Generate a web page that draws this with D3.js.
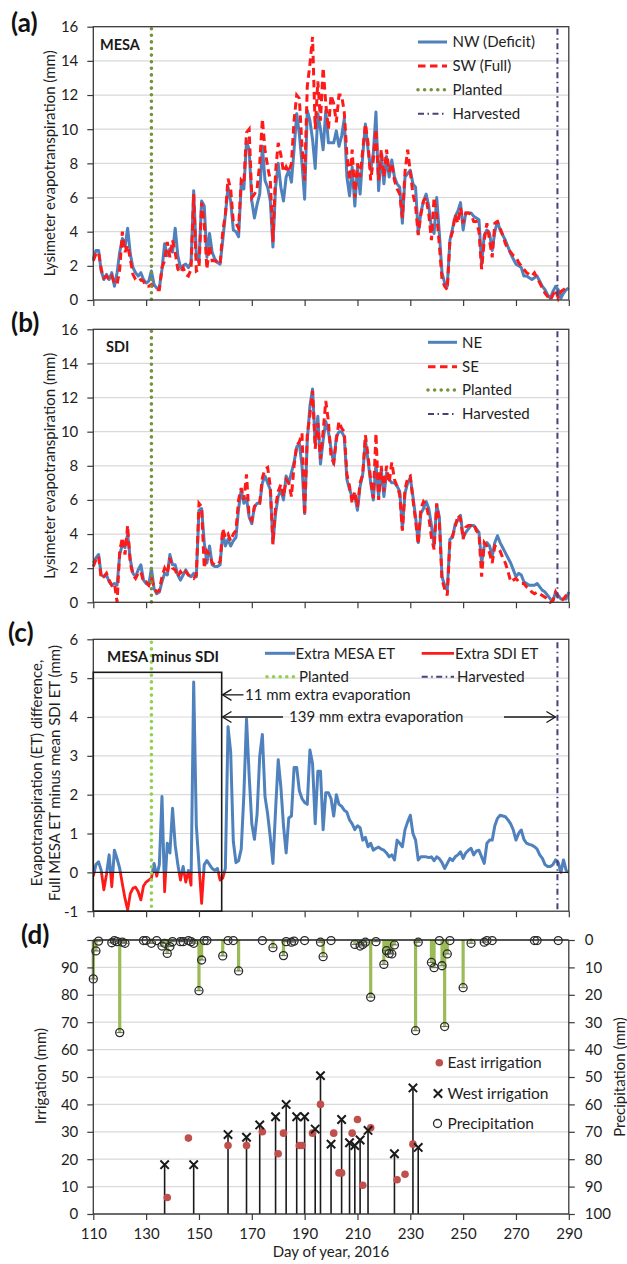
<!DOCTYPE html>
<html>
<head>
<meta charset="utf-8">
<script src="https://cdn.jsdelivr.net/npm/d3@7"></script>
<style>
  body { margin: 0; background: #fff; }
  svg { display: block; }
</style>
</head>
<body>
<svg id="chart" width="627" height="1264"></svg>
<script>
// ---------------- data ----------------
const days = d3.range(110, 291); // day of year 110 … 290

// (a) MESA lysimeters, daily ET (mm)
const nwDeficit = [
  2.4, 2.9, 2.9, 1.7, 1.2, 1.5, 1.2, 1.6, 0.8, 1.6,
  2.8, 3.6, 3.1, 4.2, 2.7, 1.9, 1.6, 1.4, 1.6, 1.2,
  1.0, 1.1, 1.7, 0.9, 0.7, 0.7, 1.8, 3.3, 2.6, 3.0,
  2.8, 4.2, 2.6, 1.9, 2.0, 2.1, 1.9, 2.2, 6.4, 2.6,
  2.2, 5.8, 5.5, 2.5, 3.9, 2.8, 2.4, 2.2, 2.1, 3.5,
  5.0, 6.6, 5.8, 4.1, 4.0, 3.7, 6.8, 6.5, 9.3, 8.8,
  5.8, 4.8, 5.6, 6.2, 9.0, 7.0, 6.6, 5.8, 3.1, 6.6,
  8.0, 6.6, 5.8, 7.2, 7.6, 6.9, 8.8, 10.9, 9.7, 8.0,
  5.9, 11.1, 10.5, 9.4, 7.7, 10.9, 10.0, 8.8, 11.1, 9.2,
  9.2, 9.2, 9.9, 9.0, 9.6, 10.6, 7.2, 6.1, 7.8, 5.5,
  7.8, 6.2, 8.5, 10.3, 8.8, 7.6, 8.6, 11.0, 6.4, 8.6,
  6.8, 8.4, 7.2, 8.2, 7.2, 6.8, 6.6, 4.5, 7.2, 7.4,
  7.6, 6.8, 6.6, 3.9, 5.1, 5.8, 6.2, 5.5, 4.2, 3.9,
  6.0, 3.9, 1.6, 1.0, 0.8, 3.5, 4.2, 4.9, 5.2, 5.7,
  4.1, 5.1, 5.1, 5.1, 4.9, 4.8, 4.7, 2.1, 3.8, 4.1,
  3.9, 2.9, 4.0, 4.6, 4.1, 3.8, 3.5, 3.1, 2.7, 2.4,
  2.1, 2.0, 1.9, 1.4, 1.4, 1.3, 1.2, 1.3, 1.4, 1.1,
  0.8, 0.6, 0.3, 0.1, 0.5, 0.8, 0.6, 0.1, 0.4, 0.6,
  0.7
];
const swFull = [
  2.3, 2.7, 2.8, 1.8, 1.3, 1.4, 1.2, 1.4, 1.0, 0.9,
  1.8, 4.0, 2.8, 3.2, 2.4, 1.5, 1.2, 1.1, 1.2, 1.1,
  0.8, 0.8, 0.9, 0.7, 0.6, 0.6, 1.9, 2.3, 3.4, 2.5,
  3.5, 2.8, 1.8, 1.6, 1.9, 1.5, 1.4, 1.8, 6.2, 1.7,
  1.8, 5.7, 4.5, 1.8, 3.2, 2.3, 2.3, 2.2, 2.1, 4.0,
  5.0, 7.1, 6.5, 4.6, 4.5, 4.2, 7.0, 6.8, 9.8, 10.0,
  6.0, 6.2, 6.5, 8.0, 10.6, 8.8, 7.8, 7.0, 3.4, 7.5,
  9.2, 8.5, 7.5, 7.8, 7.5, 8.0, 10.5, 12.0, 11.8, 9.0,
  7.0, 12.5, 13.8, 15.4, 10.0, 12.8, 10.5, 13.6, 11.5, 10.0,
  12.0, 11.5, 10.4, 12.0, 12.0, 11.0, 8.5, 7.0, 8.8, 6.0,
  8.0, 7.2, 8.8, 10.3, 9.2, 7.0, 8.2, 10.0, 7.0, 8.8,
  7.2, 8.8, 7.5, 8.0, 7.0, 6.5, 6.2, 4.8, 7.5, 8.8,
  7.5, 6.2, 5.5, 3.8, 5.0, 5.8, 6.0, 5.0, 3.5, 6.0,
  5.0, 3.2, 1.2, 0.8, 0.6, 3.5, 4.0, 5.0, 4.5, 5.4,
  4.5, 5.1, 5.1, 5.0, 4.6, 4.6, 4.0, 1.8, 3.5, 4.5,
  3.5, 2.5, 4.5, 4.6, 4.2, 3.8, 3.3, 3.0, 2.8, 2.6,
  2.5, 2.2, 2.0, 1.8, 1.6, 1.5, 1.4, 1.6, 1.3, 1.0,
  0.7, 0.4, 0.2, 0.0, 0.3, 0.6, 0.1, 0.5, 0.6, 0.7,
  0.7
];

// (b) SDI lysimeters, daily ET (mm)
const neSdi = [
  2.3, 2.6, 2.8, 1.6, 1.5, 1.6, 1.2, 1.0, 1.1, 1.0,
  2.8, 3.4, 3.2, 4.0, 2.5, 1.7, 1.5, 1.9, 2.2, 1.3,
  1.1, 1.0, 2.0, 0.8, 0.5, 0.6, 1.2, 1.7, 1.6, 2.8,
  2.2, 2.2, 1.6, 1.3, 1.6, 1.9, 1.6, 1.5, 1.7, 1.5,
  5.4, 5.5, 3.5, 2.3, 3.3, 2.2, 2.1, 2.1, 2.2, 4.1,
  3.3, 3.7, 3.3, 3.6, 3.8, 5.5, 6.6, 5.8, 6.1, 5.0,
  4.6, 5.6, 5.8, 5.8, 7.0, 7.4, 7.0, 6.6, 3.5, 5.2,
  6.2, 6.6, 6.0, 7.4, 7.0, 7.6, 8.2, 9.1, 9.3, 8.0,
  5.2, 9.5, 11.5, 12.5, 9.3, 10.9, 8.1, 9.5, 10.6, 10.0,
  9.0, 8.1, 9.7, 10.0, 10.0, 9.7, 7.2, 6.6, 6.2, 6.2,
  5.4, 6.8, 7.5, 9.5, 8.3, 7.0, 6.0, 8.1, 6.2, 7.8,
  6.2, 7.6, 7.2, 7.0, 7.0, 6.8, 6.5, 4.3, 6.4, 7.0,
  7.3, 6.2, 5.0, 3.5, 5.2, 5.5, 5.9, 5.5, 4.5, 3.3,
  5.7, 5.0, 1.5, 1.0, 0.7, 3.7, 3.8, 4.6, 4.8, 5.1,
  3.8, 4.1, 4.3, 4.5, 4.5, 4.3, 4.1, 2.3, 3.3, 3.5,
  3.3, 2.7, 3.5, 3.9, 3.5, 3.2, 2.9, 2.6, 2.3, 1.9,
  1.5, 1.7, 1.6, 1.2, 1.1, 1.0, 1.0, 1.0, 1.1, 0.9,
  0.7, 0.6, 0.4, 0.2, 0.1, 0.6, 0.4, 0.2, 0.2, 0.2,
  0.6
];
const seSdi = [
  2.1, 2.5, 2.7, 1.4, 1.5, 1.7, 1.3, 1.0, 1.1, 0.0,
  3.0, 3.8, 2.8, 4.5, 2.3, 1.6, 1.4, 1.7, 1.8, 1.2,
  1.2, 1.0, 1.4, 0.9, 0.6, 0.7, 1.5, 2.0, 1.7, 2.6,
  2.0, 1.9, 1.5, 1.8, 1.6, 1.8, 1.6, 1.5, 1.4, 1.6,
  5.8, 5.6, 2.0, 3.0, 2.8, 2.3, 2.2, 2.2, 2.4, 4.3,
  3.8, 4.0, 3.6, 4.0, 4.2, 6.0, 6.7, 6.0, 7.5, 5.0,
  4.8, 5.6, 5.8, 5.8, 7.3, 7.8, 7.9, 6.8, 3.4, 5.6,
  6.5, 6.9, 6.2, 7.2, 7.0, 6.2, 8.0, 9.2, 9.4, 9.9,
  5.1, 9.8, 11.0, 12.4, 9.0, 10.5, 8.4, 10.0, 11.8, 10.6,
  8.5, 8.2, 9.5, 10.6, 10.2, 10.0, 7.5, 6.8, 5.8, 6.5,
  5.6, 7.0, 7.5, 9.8, 8.6, 7.2, 6.1, 9.9, 6.0, 8.0,
  6.5, 8.0, 7.0, 8.2, 7.2, 6.8, 6.3, 4.2, 6.6, 7.3,
  7.4, 6.0, 4.8, 3.4, 5.5, 5.9, 5.7, 5.0, 3.8, 3.1,
  5.8, 4.7, 1.3, 0.8, 0.4, 3.6, 3.9, 4.4, 5.1, 4.9,
  3.7, 4.4, 4.5, 4.5, 4.6, 4.2, 4.0, 1.5, 3.5, 3.3,
  2.9, 2.3, 3.3, 3.2, 3.0, 2.6, 2.3, 1.8, 1.2, 1.3,
  1.4, 1.2, 1.1, 1.1, 0.9, 0.8, 0.6, 0.5, 0.6, 0.5,
  0.4, 0.3, 0.2, 0.0, 0.1, 0.6, 0.3, 0.1, 0.2, 0.4,
  0.6
];

// (c) full MESA ET minus mean SDI ET (mm)
const etDifference = [
  -0.1, 0.2, 0.27, 0.05, -0.45, -0.05, 0.45, -0.37, 0.57, 0.35,
  0.1, -0.3, -0.67, -0.97, -0.55, -0.41, -0.38, -0.5, -0.71, -0.35,
  -0.25, -0.2, -0.15, 0.23, -0.1, 0.2, 1.95, -0.5, 0.75, 0.5,
  1.65, 0.7, 0.2, -0.2, 0.15, -0.25, 0.05, -0.33, 4.9, 1.2,
  0.2, -0.8, 0.2, 0.3, 0.2, 0.1, 0.05, 0.1, -0.2, -0.15,
  0.1, 3.75, 3.1, 0.8, 0.25, 0.3, 0.6, 2.0, 3.95, 2.5,
  1.25, 0.85, 1.5, 3.0, 3.55, 1.95, 1.5, 0.9, 0.23, 1.6,
  2.9, 2.2, 1.2, 0.5, 1.4, 1.45, 2.7, 2.7, 2.1, 1.9,
  1.8, 1.75, 3.15, 2.8, 1.25, 2.6, 2.6, 1.1, 2.05, 2.05,
  1.9, 1.45, 2.0, 1.75, 1.7, 1.6, 1.55, 1.35, 1.25, 1.1,
  1.2, 1.15, 0.83, 0.9, 0.66, 0.75, 0.57, 0.62, 0.65, 0.6,
  0.57, 0.5, 0.4, 0.45, 0.32, 0.83, 0.75, 0.66, 1.1, 1.3,
  1.47, 1.0, 0.83, 0.32, 0.4, 0.4, 0.4, 0.38, 0.4, 0.3,
  0.4, 0.35, 0.25, 0.1, 0.23, 0.36, 0.3, 0.4, 0.45, 0.53,
  0.36, 0.5, 0.57, 0.62, 0.45, 0.55, 0.57, 0.4, 0.23, 0.75,
  0.83, 0.83, 1.2, 1.39, 1.47, 1.45, 1.43, 1.35, 1.25, 1.09,
  0.83, 1.0, 1.09, 0.85, 0.75, 0.72, 0.7, 0.66, 0.6, 0.45,
  0.36, 0.2, 0.15, 0.15, 0.2, 0.32, 0.25, 0.0, 0.32, 0.05,
  0.0
];

// (d) irrigation events and rainfall
const westIrrDays = [137, 148, 161, 168, 173, 179, 183, 187, 190, 194, 196, 200, 204, 207, 209, 211, 214, 224, 231, 233];
const westIrrMm   = [18, 18, 29, 28, 32.5, 35.5, 40, 35.5, 35.5, 31, 50.5, 25.5, 34.5, 26, 25, 27, 30.5, 22, 46, 24.3];
const eastIrrDays = [138, 146, 161, 168, 174, 180, 182, 188, 189, 193, 196, 201, 203, 204, 208, 210, 212, 215, 225, 228, 231];
const eastIrrMm   = [6, 27.7, 25, 25, 30, 22, 29.5, 25, 25, 29.5, 40, 29.5, 15, 15, 29.5, 34.5, 10.5, 31.5, 12.5, 14.5, 25.5];
const rainDays = [110, 111, 112, 117, 118, 119, 120, 121, 122, 129, 130, 132, 134, 136, 137, 138, 139, 140, 143, 144,
                  146, 147, 148, 150, 151, 152, 153, 159, 161, 163, 165, 174, 178, 182, 183, 185, 186, 190, 196, 197,
                  200, 209, 211, 212, 213, 215, 217, 220, 221, 222, 223, 224, 232, 233, 238, 239, 241, 242, 243, 244,
                  245, 250, 253, 258, 259, 261, 277, 278, 286];
const rainMm   = [14.2, 4.0, 0.4, 1.0, 0.2, 0.6, 33.8, 0.8, 1.2, 0.2, 0.2, 1.2, 0.2, 2.2, 1.2, 4.9, 2.4, 0.6, 0.6, 0.6,
                  0.2, 0.6, 1.2, 18.5, 7.3, 0.2, 0.2, 5.8, 0.2, 0.2, 11.3, 0.2, 2.8, 5.7, 0.6, 0.8, 0.4, 0.2, 0.8, 6.1,
                  0.2, 1.6, 2.2, 1.6, 0.8, 20.9, 0.6, 8.9, 3.9, 4.9, 5.1, 1.8, 33.1, 0.8, 8.2, 10.1, 0.2, 9.4, 31.6, 5.1,
                  0.2, 17.4, 1.2, 0.8, 0.2, 0.2, 0.2, 0.2, 0.2];

// crop dates
const plantedDay = 132;
const harvestedDay = 285.7;

// tick labels
const etTicks = d3.range(0, 17, 2);
const diffTicks = d3.range(-1, 7, 1);
const dayTicks = d3.range(110, 291, 20);
const irrTicks = d3.range(0, 101, 10);
const rainTicks = d3.range(0, 101, 10);

// ---------------- drawing ----------------
const FONT = 'Lato, "Open Sans", "Liberation Sans", sans-serif';
const BLUE = '#4f81bd', RED = '#ff1a1a', OLIVE = '#76923c', LIME = '#92d050',
      PURPLE = '#4b3f78', GRID = '#d9d9d9', AXIS = '#3a3a3a', TXT = '#1e1e1e',
      GREENBAR = '#9bbb59', EAST = '#c0504d';
const FS = 15;
const svg = d3.select('#chart').attr('font-family', FONT);

const x = d3.scaleLinear().domain([110, 290]).range([93.3, 568.8]);
const [X0, X1] = x.range();

function series(values) { return days.map((d, i) => ({ day: d, v: values[i] })); }

function grid(g, y, vals) {
  g.append('g').selectAll('line').data(vals).join('line')
    .attr('x1', X0).attr('x2', X1).attr('y1', y).attr('y2', y)
    .attr('stroke', GRID).attr('stroke-width', 1.2);
}

function styleAxis(ax) {
  ax.select('.domain').remove();
  ax.selectAll('line').attr('stroke', AXIS).attr('stroke-width', 1.2);
  ax.selectAll('text').attr('font-size', FS).attr('fill', TXT).attr('font-family', FONT);
}

function leftAxis(g, y, ticks) {
  const ax = g.append('g').attr('transform', `translate(${X0},0)`)
    .call(d3.axisLeft(y).tickValues(ticks).tickSize(6).tickPadding(9).tickFormat(d => String(d)));
  styleAxis(ax);
}

function bottomTicks(g, yPos, labels) {
  const ax = g.append('g').attr('transform', `translate(0,${yPos})`)
    .call(d3.axisBottom(x).tickValues(dayTicks).tickSize(6).tickPadding(8)
      .tickFormat(labels ? d => String(d) : () => ''));
  styleAxis(ax);
}

function box(g, y0, y1) {
  g.append('rect').attr('x', X0).attr('y', y0).attr('width', X1 - X0).attr('height', y1 - y0)
    .attr('fill', 'none').attr('stroke', AXIS).attr('stroke-width', 1.3);
}

function vline(g, day, y0, y1, kind) {
  const l = g.append('line').attr('x1', x(day)).attr('x2', x(day)).attr('y1', y0).attr('y2', y1);
  styleLine(l, kind);
}

function styleLine(sel, kind) {
  if (kind === 'planted') {
    sel.attr('stroke', OLIVE).attr('stroke-width', 3.6).attr('stroke-dasharray', '0 6.6').attr('stroke-linecap', 'round');
  } else if (kind === 'plantedLime') {
    sel.attr('stroke', LIME).attr('stroke-width', 3.6).attr('stroke-dasharray', '0 6.6').attr('stroke-linecap', 'round');
  } else if (kind === 'harvest') {
    sel.attr('stroke', PURPLE).attr('stroke-width', 2).attr('stroke-dasharray', '6 3.5 1.5 3.5');
  } else if (kind === 'blue') {
    sel.attr('stroke', BLUE).attr('stroke-width', 3);
  } else if (kind === 'redDash') {
    sel.attr('stroke', RED).attr('stroke-width', 3).attr('stroke-dasharray', '7.5 4.5');
  } else if (kind === 'red') {
    sel.attr('stroke', RED).attr('stroke-width', 2.8);
  }
  return sel.attr('fill', 'none');
}

function legendRow(g, x0, x1, y, kind, label, tx) {
  styleLine(g.append('line').attr('x1', x0).attr('x2', x1).attr('y1', y).attr('y2', y), kind);
  g.append('text').attr('x', tx).attr('y', y).attr('dy', '0.35em')
    .attr('font-size', FS).attr('fill', TXT).text(label);
}

function panelTag(g, tx, ty, tag) {
  g.append('text').attr('x', tx).attr('y', ty).attr('font-size', 26).attr('font-weight', 700)
    .attr('fill', '#111').text(tag);
}

function yTitle(g, cx, cy, lines) {
  const t = g.append('text').attr('transform', `translate(${cx},${cy}) rotate(-90)`)
    .attr('text-anchor', 'middle').attr('font-size', FS).attr('fill', TXT);
  lines.forEach((s, i) => t.append('tspan').attr('x', 0).attr('dy', i === 0 ? '0.35em' : '1.15em').text(s));
}

// ---- panels (a) and (b): lysimeter ET ----
function etPanel(top, bottom, blueVals, redVals, names, tag, site, legX, legRows) {
  const g = svg.append('g');
  const y = d3.scaleLinear().domain([0, 16]).range([bottom, top]);
  grid(g, y, d3.range(2, 16, 2));
  const line = d3.line().x(d => x(d.day)).y(d => y(d.v));
  styleLine(g.append('path').attr('d', line(series(blueVals))), 'blue').attr('stroke-linejoin', 'round');
  styleLine(g.append('path').attr('d', line(series(redVals))), 'redDash');
  vline(g, plantedDay, top + 2, bottom, 'planted');
  vline(g, harvestedDay, top + 2, bottom, 'harvest');
  box(g, top, bottom);
  leftAxis(g, y, etTicks);
  bottomTicks(g, bottom, false);
  yTitle(g, 50, (top + bottom) / 2, ['Lysimeter evapotranspiration (mm)']);
  panelTag(g, tag.x, tag.y, tag.text);
  g.append('text').attr('x', site.x).attr('y', site.y).attr('font-size', 14.5).attr('font-weight', 700)
    .attr('fill', '#1a1a1a').text(site.text);
  const kinds = ['blue', 'redDash', 'planted', 'harvest'];
  [names[0], names[1], 'Planted', 'Harvested'].forEach((s, i) =>
    legendRow(g, legX[0], legX[1], legRows[i], kinds[i], s, legX[2]));
}

etPanel(26.7, 300, nwDeficit, swFull, ['NW (Deficit)', 'SW (Full)'],
  { x: 11, y: 32, text: '(a)' }, { x: 100, y: 50, text: 'MESA' },
  [418, 447, 452.5], [42, 66, 89.7, 113.7]);
etPanel(329.3, 602.3, neSdi, seSdi, ['NE', 'SE'],
  { x: 11, y: 332, text: '(b)' }, { x: 106, y: 352, text: 'SDI' },
  [428, 457, 462], [342.3, 366.7, 390, 414]);

// ---- panel (c): ET difference ----
(function () {
  const top = 639.3, bottom = 911.2;
  const g = svg.append('g');
  const y = d3.scaleLinear().domain([-1, 6]).range([bottom, top]);
  grid(g, y, d3.range(1, 6, 1));
  const defs = svg.append('defs');
  defs.append('clipPath').attr('id', 'abovezero').append('rect')
    .attr('x', X0).attr('y', top).attr('width', X1 - X0).attr('height', y(0) - top);
  defs.append('clipPath').attr('id', 'belowzero').append('rect')
    .attr('x', X0).attr('y', y(0)).attr('width', X1 - X0).attr('height', bottom - y(0));
  const line = d3.line().x(d => x(d.day)).y(d => y(d.v));
  const path = line(series(etDifference));
  styleLine(g.append('path').attr('d', path).attr('clip-path', 'url(#abovezero)'), 'blue').attr('stroke-linejoin', 'round');
  styleLine(g.append('path').attr('d', path).attr('clip-path', 'url(#belowzero)'), 'red').attr('stroke-linejoin', 'round');
  g.append('line').attr('x1', X0).attr('x2', X1).attr('y1', y(0)).attr('y2', y(0))
    .attr('stroke', '#1a1a1a').attr('stroke-width', 1.4);
  vline(g, plantedDay, top + 3, bottom, 'plantedLime');
  vline(g, harvestedDay, top + 3, bottom, 'harvest');
  box(g, top, bottom);
  // early-season window
  g.append('rect').attr('x', x(110)).attr('y', y(5.15)).attr('width', x(158.6) - x(110))
    .attr('height', y(-1) - y(5.15)).attr('fill', 'none').attr('stroke', '#1a1a1a').attr('stroke-width', 1.6);
  g.append('text').attr('x', 107).attr('y', 662).attr('font-size', 15).attr('font-weight', 700)
    .attr('fill', '#1a1a1a').text('MESA minus SDI');

  // annotation arrows
  const ann = g.append('g').attr('stroke', '#1a1a1a').attr('stroke-width', 1.3).attr('fill', 'none');
  function head(px, py, dir) {
    ann.append('path').attr('d', `M${px - dir * 9},${py - 5.5}L${px},${py}L${px - dir * 9},${py + 5.5}`);
  }
  const a1y = y(4.57), a2y = y(4.0);
  const left = x(158.9);
  head(left, a1y, -1);
  ann.append('line').attr('x1', left).attr('x2', left + 21).attr('y1', a1y).attr('y2', a1y);
  g.append('text').attr('x', left + 22.5).attr('y', a1y).attr('dy', '0.35em').attr('font-size', FS)
    .attr('fill', TXT).text('11 mm extra evaporation');
  head(left, a2y, -1);
  ann.append('line').attr('x1', left).attr('x2', 283).attr('y1', a2y).attr('y2', a2y);
  g.append('text').attr('x', 289).attr('y', a2y).attr('dy', '0.35em').attr('font-size', FS)
    .attr('fill', TXT).text('139 mm extra evaporation');
  const right = x(harvestedDay) - 2;
  ann.append('line').attr('x1', 504).attr('x2', right).attr('y1', a2y).attr('y2', a2y);
  head(right, a2y, 1);

  leftAxis(g, y, diffTicks);
  bottomTicks(g, bottom, false);
  yTitle(g, 37, 773, ['Evapotranspiration (ET) difference,', 'Full MESA ET minus mean SDI ET (mm)']);
  panelTag(g, 8, 642, '(c)');
  legendRow(g, 265, 295, 653.3, 'blue', 'Extra MESA ET', 295.5);
  legendRow(g, 421.7, 454, 653.3, 'red', 'Extra SDI ET', 455);
  legendRow(g, 267, 295, 676.7, 'plantedLime', 'Planted', 299);
  legendRow(g, 421.7, 454, 676.7, 'harvest', 'Harvested', 457);
})();

// ---- panel (d): irrigation and precipitation ----
(function () {
  const top = 940, bottom = 1214;
  const g = svg.append('g');
  const yIrr = d3.scaleLinear().domain([0, 100]).range([bottom, top]);
  const yRain = d3.scaleLinear().domain([0, 100]).range([top, bottom]);
  grid(g, yIrr, d3.range(10, 100, 10));

  // rainfall bars hang from the top axis
  const rain = rainDays.map((d, i) => ({ day: d, mm: rainMm[i] }));
  g.append('g').selectAll('rect').data(rain).join('rect')
    .attr('x', d => x(d.day) - 1.6).attr('width', 3.2)
    .attr('y', top).attr('height', d => yRain(d.mm) - top)
    .attr('fill', GREENBAR);

  // west irrigation stems
  const west = westIrrDays.map((d, i) => ({ day: d, mm: westIrrMm[i] }));
  g.append('g').selectAll('line').data(west).join('line')
    .attr('x1', d => x(d.day)).attr('x2', d => x(d.day))
    .attr('y1', bottom).attr('y2', d => yIrr(d.mm))
    .attr('stroke', '#1a1a1a').attr('stroke-width', 1.6);

  // axes frame
  g.append('line').attr('x1', X0).attr('x2', X1).attr('y1', top).attr('y2', top).attr('stroke', '#1a1a1a').attr('stroke-width', 1.4);
  g.append('line').attr('x1', X0).attr('x2', X1).attr('y1', bottom).attr('y2', bottom).attr('stroke', AXIS).attr('stroke-width', 1.3);
  g.append('line').attr('x1', X0).attr('x2', X0).attr('y1', top).attr('y2', bottom).attr('stroke', AXIS).attr('stroke-width', 1.3);
  g.append('line').attr('x1', X1).attr('x2', X1).attr('y1', top).attr('y2', bottom).attr('stroke', AXIS).attr('stroke-width', 1.3);

  // east irrigation dots
  const east = eastIrrDays.map((d, i) => ({ day: d, mm: eastIrrMm[i] }));
  g.append('g').selectAll('circle').data(east).join('circle')
    .attr('cx', d => x(d.day)).attr('cy', d => yIrr(d.mm)).attr('r', 3.8).attr('fill', EAST);

  // west irrigation crosses
  const cross = (cx, cy, s) => `M${cx - s},${cy - s}L${cx + s},${cy + s}M${cx - s},${cy + s}L${cx + s},${cy - s}`;
  g.append('g').selectAll('path').data(west).join('path')
    .attr('d', d => cross(x(d.day), yIrr(d.mm), 4.2))
    .attr('stroke', '#1a1a1a').attr('stroke-width', 2).attr('fill', 'none');

  // rainfall markers
  const rg = g.append('g').selectAll('g').data(rain).join('g')
    .attr('transform', d => `translate(${x(d.day)},${yRain(d.mm)})`);
  rg.append('circle').attr('r', 4).attr('fill', 'none').attr('stroke', '#2a2a2a').attr('stroke-width', 1.3);
  rg.append('line').attr('x1', -3.2).attr('x2', 3.2).attr('stroke', '#555').attr('stroke-width', 0.9);

  // axes
  const la = g.append('g').attr('transform', `translate(${X0},0)`)
    .call(d3.axisLeft(yIrr).tickValues(irrTicks).tickSize(6).tickPadding(9)
      .tickFormat(d => (d === 100 ? '' : String(d))));
  styleAxis(la);
  const ra = g.append('g').attr('transform', `translate(${X1},0)`)
    .call(d3.axisRight(yRain).tickValues(rainTicks).tickSize(6).tickPadding(10).tickFormat(d => String(d)));
  styleAxis(ra);
  bottomTicks(g, bottom, true);

  yTitle(g, 41, 1076, ['Irrigation (mm)']);
  yTitle(g, 620, 1077, ['Precipitation (mm)']);
  g.append('text').attr('x', 331).attr('y', 1257).attr('text-anchor', 'middle')
    .attr('font-size', FS).attr('fill', TXT).text('Day of year, 2016');
  panelTag(g, 21, 944, '(d)');

  // legend
  g.append('circle').attr('cx', 439.3).attr('cy', 1062.7).attr('r', 3.8).attr('fill', EAST);
  g.append('path').attr('d', cross(438, 1093.5, 4.2)).attr('stroke', '#1a1a1a').attr('stroke-width', 2);
  g.append('circle').attr('cx', 437.5).attr('cy', 1123.5).attr('r', 4).attr('fill', 'none')
    .attr('stroke', '#2a2a2a').attr('stroke-width', 1.3);
  [['East irrigation', 1062.7], ['West irrigation', 1093.5], ['Precipitation', 1123.5]].forEach(([s, yy]) =>
    g.append('text').attr('x', 447.5).attr('y', yy).attr('dy', '0.35em').attr('font-size', 15.5)
      .attr('fill', TXT).text(s));
})();
</script>
</body>
</html>
